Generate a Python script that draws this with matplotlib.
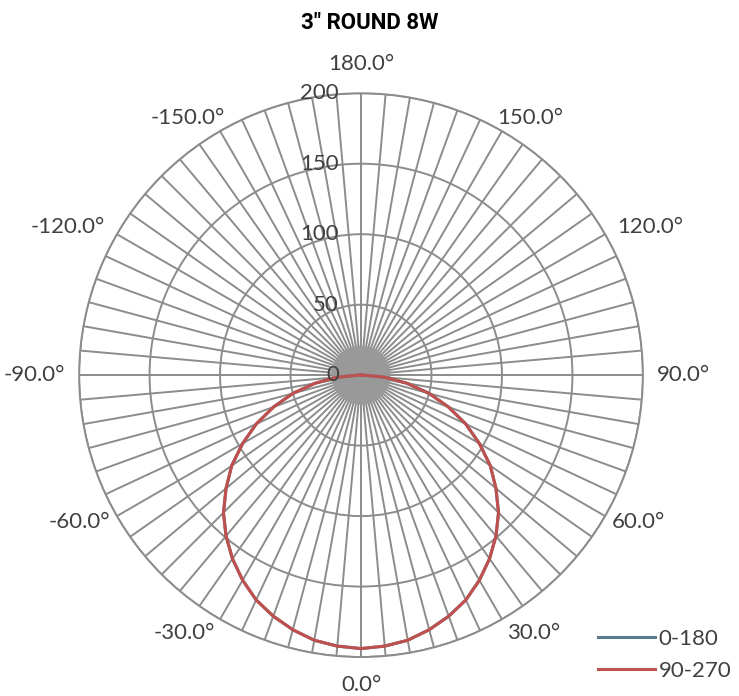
import matplotlib.pyplot as plt
import numpy as np
from matplotlib.transforms import offset_copy

# candela values per angle (deg), both planes identical
angles = [-180, -90, -85, -80, -75, -70, -65, -60, -55, -50, -45, -40, -35, -30, -25,
          -20, -15, -10, -5, 0, 5, 10, 15, 20, 25, 30, 35, 40, 45, 50, 55, 60, 65,
          70, 75, 80, 85, 90, 180]
vals_0_180 = [0, 2, 17, 33, 50, 66, 82, 97, 112, 125, 138, 149, 159, 168, 176,
              182, 187, 191, 193, 194, 193, 191, 187, 182, 176, 168, 159, 149, 138, 125, 112, 97, 82,
              66, 50, 33, 17, 2, 0]
vals_90_270 = list(vals_0_180)

r_ticks = [0, 50, 100, 150, 200]
theta_labels = [0, 30, 60, 90, 120, 150, 180, -150, -120, -90, -60, -30]

grid_c = "#8c8c8c"
txt_c = "#404040"

fig = plt.figure(figsize=(7.39, 6.96), dpi=100)
ax = fig.add_axes([0.107, 0.056, 0.763, 0.810], projection="polar")
ax.set_theta_zero_location("S")
ax.set_theta_direction(1)
ax.set_ylim(0, 200)

th = np.deg2rad(angles)
ax.plot(th, vals_0_180, color="#5b7b8e", lw=2.2, label="0-180", zorder=4)
ax.plot(th, vals_90_270, color="#c0504d", lw=2.2, label="90-270", zorder=5)

# grey hub in the middle
hub = np.linspace(0, 2 * np.pi, 200)
ax.fill(hub, np.full_like(hub, 21), color="#999999", zorder=3, lw=0)

grid_deg = np.arange(0, 360, 5)
ax.set_thetagrids(grid_deg, [""] * len(grid_deg))
ax.set_rgrids(r_ticks[1:], labels=[])
ax.grid(True, color=grid_c, lw=1.4)
ax.spines["polar"].set_color(grid_c)
ax.spines["polar"].set_linewidth(1.4)

# angle labels placed excel-like around the rim (pixel nudges)
x_nudge = {0: 0, 30: 5, 60: 7, 90: 14, 120: 12, 150: -5, 180: 0}
y_nudge = {0: 28, 30: 14, 60: 6, 90: 0, 120: -7, 150: -13, 180: -29}
for a in theta_labels:
    t = np.deg2rad(a)
    s = 1 if a >= 0 else -1
    k = abs(a)
    ha = "center" if k in (0, 180) else ("left" if s > 0 else "right")
    tr = offset_copy(ax.transData, fig=fig, x=s * x_nudge[k], y=-y_nudge[k], units="dots")
    ax.text(t, 200, f"{a:.1f}°", transform=tr, ha=ha, va="center", fontsize=16,
            color=txt_c, family="Lato", clip_on=False)

tr = offset_copy(ax.transData, fig=fig, x=-22, y=0, units="dots")
for r in r_ticks:
    ax.text(np.pi, r, str(r), transform=tr, ha="right", va="center",
            fontsize=16, color=txt_c, family="Lato", zorder=6)

fig.text(0.5, 0.967, "3\" ROUND 8W", ha="center", va="center", fontsize=16,
         fontweight="bold", family="Roboto")

leg = fig.legend(loc="lower right", bbox_to_anchor=(1.017, -0.007), frameon=False,
                 prop={"family": "Lato", "size": 16}, handlelength=2.6,
                 handletextpad=0.15, labelspacing=0.55)
for t in leg.get_texts():
    t.set_color(txt_c)

fig.savefig("out.png", dpi=100)
